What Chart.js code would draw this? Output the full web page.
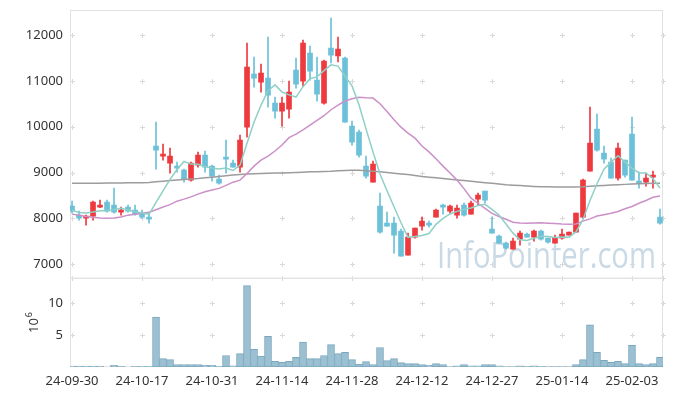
<!DOCTYPE html>
<html>
<head>
<meta charset="utf-8">
<script src="https://cdn.jsdelivr.net/npm/chart.js@4.4.1/dist/chart.umd.min.js"></script>
<style>
  html, body { margin: 0; padding: 0; background: #fff; }
  #wrap { width: 673px; height: 396px; }
</style>
</head>
<body>
<div id="wrap"><canvas id="c" width="673" height="396"></canvas></div>
<script>
// daily candles, index 0 = 24-09-30
const opens = [8266, 8070, 8005, 8049, 8245, 8354, 8289, 8136, 8245, 8180,
  8114, 8027, 9577, 9359, 9206, 9140, 9053, 8835, 9162, 9380,
  9140, 8857, 9315, 9206, 9118, 9991, 11149, 10974, 11061, 10516,
  10341, 10384, 11236, 10996, 11607, 11017, 10516, 11716, 11542, 11498,
  10013, 9882, 9140, 8791, 8267, 7896, 7896, 7721, 7198, 7590,
  7830, 7896, 8027, 8267, 8158, 8071, 8289, 8093, 8420, 8595,
  7765, 7612, 7459, 7328, 7547, 7656, 7590, 7721, 7568, 7459,
  7568, 7634, 7700, 8027, 9031, 9948, 9424, 9228, 8878, 9271,
  9839, 8791, 8791, 8900, 8027];
const highs = [8376, 8157, 8070, 8376, 8398, 8398, 8660, 8245, 8289, 8289,
  8180, 8136, 10100, 9620, 9533, 9228, 9075, 9228, 9446, 9468,
  9162, 8944, 9708, 9271, 9817, 11825, 11520, 11367, 11956, 10647,
  10647, 10996, 11498, 11891, 11760, 11520, 11454, 12371, 11956, 11520,
  10123, 9926, 9359, 9249, 8551, 8136, 8027, 7765, 7678, 7787,
  8027, 7940, 8202, 8311, 8289, 8289, 8333, 8376, 8551, 8595,
  8027, 7634, 7481, 7568, 7721, 7678, 7743, 7743, 7568, 7634,
  7765, 7700, 8114, 8857, 10428, 10275, 9577, 9315, 9642, 9271,
  10210, 9010, 8988, 9031, 8202];
const lows = [8114, 7960, 7852, 7962, 8234, 8136, 8114, 8070, 8136, 8070,
  8005, 7896, 9075, 9271, 8988, 9010, 8791, 8813, 9118, 9010,
  8813, 8748, 8988, 9118, 9010, 9773, 10865, 10756, 10428, 10188,
  10013, 10188, 10843, 10887, 11017, 10559, 10494, 11389, 11411, 10101,
  9599, 9337, 8878, 8791, 7678, 7830, 7241, 7176, 7198, 7568,
  7743, 7808, 8027, 8093, 8114, 8005, 8049, 8093, 8289, 8333,
  7678, 7459, 7328, 7328, 7416, 7590, 7503, 7525, 7459, 7459,
  7547, 7634, 7700, 8005, 9031, 9468, 9206, 8878, 8835, 8900,
  8835, 8660, 8704, 8660, 7874];
const closes = [8157, 8005, 8027, 8354, 8289, 8157, 8136, 8180, 8157, 8093,
  8027, 7983, 9490, 9402, 9359, 9097, 8857, 9206, 9380, 9118,
  8922, 8770, 9293, 9118, 9708, 11301, 11061, 11170, 10690, 10341,
  10516, 10756, 10930, 11825, 11214, 10712, 11432, 11563, 11694, 10101,
  9664, 9380, 8922, 9184, 7700, 7830, 7634, 7176, 7590, 7787,
  7940, 7852, 8180, 8245, 8267, 8223, 8071, 8333, 8507, 8398,
  7678, 7459, 7350, 7503, 7678, 7590, 7721, 7547, 7481, 7568,
  7656, 7700, 8114, 8835, 9642, 9490, 9293, 8878, 9533, 8944,
  8835, 8770, 8878, 8922, 7896];
// volume, millions
const volumes = [0.15, 0.15, 0.15, 0.15, 0.15, 0, 0.28, 0.1, 0, 0.1,
  0.1, 0.1, 7.8, 1.3, 1.15, 0.37, 0.37, 0.37, 0.37, 0.26,
  0.26, 0.1, 1.8, 0.2, 2.1, 12.7, 2.75, 1.7, 4.8, 0.9,
  0.74, 0.9, 1.5, 3.9, 1.3, 1.3, 1.8, 3.5, 2.1, 2.3,
  1.15, 0.47, 0.84, 0.37, 3.05, 1.0, 1.3, 0.68, 0.53, 0.53,
  0.37, 0.26, 0.53, 0.37, 0.05, 0.2, 0.37, 0.2, 0.2, 0.37,
  0.37, 0.2, 0.05, 0.05, 0.2, 0.1, 0.2, 0.1, 0.05, 0.05,
  0.05, 0.05, 0.37, 1.15, 6.6, 2.3, 1.05, 0.74, 0.9, 0.53,
  3.4, 0.53, 0.37, 0.53, 1.5];
// moving averages
const ma5 = [8180, 8130, 8120, 8140, 8166, 8166, 8193, 8223, 8184, 8145,
  8119, 8088, 8350, 8599, 8852, 9066, 9241, 9184, 9180, 9132,
  9097, 9079, 9097, 9044, 9162, 9638, 10096, 10472, 10786, 10913,
  10756, 10695, 10647, 10874, 11048, 11087, 11223, 11349, 11323, 11100,
  10891, 10480, 9952, 9450, 8970, 8603, 8254, 7905, 7586, 7603,
  7625, 7669, 7870, 8001, 8097, 8153, 8197, 8228, 8280, 8306,
  8197, 8075, 7878, 7678, 7534, 7516, 7568, 7608, 7603, 7581,
  7595, 7590, 7704, 7975, 8389, 8756, 9075, 9228, 9367, 9228,
  9097, 8992, 8992, 8870, 8660];
const ma20 = [8093, 8070, 8040, 8027, 8010, 8005, 8010, 8030, 8071, 8090,
  8110, 8136, 8190, 8250, 8300, 8375, 8420, 8470, 8530, 8580,
  8620, 8655, 8720, 8790, 8835, 8980, 9140, 9270, 9360, 9470,
  9600, 9760, 9840, 9930, 10035, 10140, 10240, 10370, 10470, 10560,
  10610, 10640, 10630, 10625, 10500, 10330, 10150, 9990, 9860, 9750,
  9580, 9450, 9300, 9140, 8990, 8835, 8650, 8440, 8330, 8220,
  8110, 8040, 7980, 7918, 7900, 7896, 7900, 7905, 7896, 7890,
  7880, 7874, 7880, 7940, 7990, 8050, 8080, 8110, 8150, 8210,
  8260, 8330, 8390, 8460, 8486];
const ma120 = [8765, 8766, 8767, 8768, 8769, 8770, 8772, 8774, 8776, 8778,
  8780, 8785, 8800, 8812, 8825, 8838, 8850, 8860, 8870, 8885,
  8900, 8915, 8930, 8945, 8960, 8968, 8975, 8980, 8985, 8988,
  8990, 8995, 9000, 9008, 9015, 9020, 9025, 9030, 9040, 9045,
  9050, 9048, 9040, 9030, 9015, 9000, 8985, 8970, 8955, 8935,
  8915, 8900, 8885, 8870, 8855, 8840, 8825, 8810, 8795, 8780,
  8765, 8750, 8735, 8725, 8715, 8705, 8698, 8692, 8688, 8685,
  8682, 8682, 8685, 8690, 8700, 8710, 8720, 8728, 8735, 8742,
  8748, 8755, 8760, 8765, 8768];

const dateTickIdx = [0, 10, 20, 30, 40, 50, 60, 70, 80];
const dateTickLabels = ['24-09-30', '24-10-17', '24-10-31', '24-11-14', '24-11-28',
  '24-12-12', '24-12-27', '25-01-14', '25-02-03'];
const priceTicks = [7000, 8000, 9000, 10000, 11000, 12000];
const volTicks = [5, 10];

const UP = '#ee3a3f', DOWN = '#6cc1d9';
const idx = opens.map((_, i) => i);
const candleColors = idx.map(i => closes[i] >= opens[i] ? UP : DOWN);
const FONT = { family: '"Noto Sans", "DejaVu Sans", sans-serif', size: 13 };

const decor = {
  id: 'decor',
  beforeDatasetsDraw(chart) {
    const ctx = chart.ctx;
    const { x, y, yv } = chart.scales;
    const area = chart.chartArea;
    ctx.save();
    // watermark
    ctx.font = '36px "Open Sans", sans-serif';
    ctx.fillStyle = '#c9dae6';
    ctx.textBaseline = 'alphabetic';
    const w = ctx.measureText('InfoPointer.com').width;
    ctx.translate(437, 268);
    ctx.scale(219 / w, 1);
    ctx.fillText('InfoPointer.com', 0, 0);
    ctx.restore();

    ctx.save();
    // small cross marks at grid intersections
    ctx.strokeStyle = '#d9d9d9';
    ctx.lineWidth = 1;
    const xs = dateTickIdx.map(v => Math.round(x.getPixelForValue(v))).concat([Math.round(area.right)]);
    const ys = priceTicks.map(v => Math.round(y.getPixelForValue(v)))
      .concat(volTicks.map(v => Math.round(yv.getPixelForValue(v))), [Math.round(yv.top)]);
    ctx.beginPath();
    xs.forEach(px => ys.forEach(py => {
      ctx.moveTo(px - 2, py + 0.5); ctx.lineTo(px + 3, py + 0.5);
      ctx.moveTo(px + 0.5, py - 2); ctx.lineTo(px + 0.5, py + 3);
    }));
    ctx.stroke();
    // panel frames
    ctx.strokeStyle = '#e2e2e2';
    ctx.strokeRect(area.left + 0.5, y.top + 0.5, area.right - area.left - 1, y.bottom - y.top);
    ctx.strokeRect(area.left + 0.5, yv.top + 0.5, area.right - area.left - 1, yv.bottom - yv.top - 1);
    ctx.restore();

    ctx.save();
    // 10^6 unit label of the volume axis
    ctx.fillStyle = '#333';
    ctx.translate(38, 333);
    ctx.rotate(-Math.PI / 2);
    ctx.font = '13px "Noto Sans", sans-serif';
    ctx.textBaseline = 'alphabetic';
    ctx.fillText('10', 0, 0);
    const tw = ctx.measureText('10').width;
    ctx.font = '9px "Noto Sans", sans-serif';
    ctx.fillText('6', tw + 1, -6);
    ctx.restore();
  }
};

const fixAxis = s => { s.width = 70; s.paddingTop = 0; s.paddingBottom = 0; };

new Chart(document.getElementById('c'), {
  type: 'bar',
  data: {
    datasets: [
      { type: 'line', data: idx.map(i => ({ x: i, y: ma5[i] })), borderColor: '#8fd0c6', borderWidth: 1.5,
        pointRadius: 0, yAxisID: 'y', order: 0 },
      { type: 'line', data: idx.map(i => ({ x: i, y: ma20[i] })), borderColor: '#cc90c8', borderWidth: 1.5,
        pointRadius: 0, yAxisID: 'y', order: 0 },
      { type: 'line', data: idx.map(i => ({ x: i, y: ma120[i] })), borderColor: '#9c9c9c', borderWidth: 1.5,
        pointRadius: 0, yAxisID: 'y', order: 0 },
      { data: idx.map(i => ({ x: i, y: [opens[i], closes[i]] })), backgroundColor: candleColors,
        barThickness: 5, minBarLength: 2, yAxisID: 'y', order: 1 },
      { data: idx.map(i => ({ x: i, y: [lows[i], highs[i]] })), backgroundColor: candleColors,
        barThickness: 1, yAxisID: 'y', order: 2 },
      { data: idx.map(i => ({ x: i, y: volumes[i] })), backgroundColor: '#9bc0d2', borderColor: '#79a7be',
        borderWidth: 1, barThickness: 7, yAxisID: 'yv', order: 3 }
    ]
  },
  options: {
    responsive: false,
    animation: false,
    devicePixelRatio: 1,
    events: [],
    layout: { padding: { top: 10, right: 10, left: 0, bottom: 0 } },
    datasets: { bar: { grouped: false, borderSkipped: false } },
    plugins: { legend: { display: false }, tooltip: { enabled: false } },
    scales: {
      x: {
        type: 'linear', min: -0.29, max: 84.43, offset: false,
        grid: { display: false, drawTicks: false }, border: { display: false },
        afterBuildTicks: s => { s.ticks = dateTickIdx.map(v => ({ value: v })); },
        ticks: { autoSkip: false, maxRotation: 0, padding: 6, color: '#333', font: FONT,
          callback: v => dateTickLabels[dateTickIdx.indexOf(v)] },
        afterFit: s => { s.height = 29; s.paddingLeft = 0; s.paddingRight = 0; }
      },
      // volume listed first so the price panel ends up on top of the stack
      yv: {
        type: 'linear', position: 'left', stack: 'panels', stackWeight: 1, min: 0, max: 13.94,
        grid: { display: false, drawTicks: false }, border: { display: false },
        afterBuildTicks: s => { s.ticks = volTicks.map(v => ({ value: v })); },
        ticks: { padding: 7, color: '#333', font: FONT, callback: v => String(v) },
        afterFit: fixAxis
      },
      y: {
        type: 'linear', position: 'left', stack: 'panels', stackWeight: 3, min: 6705, max: 12546,
        grid: { display: false, drawTicks: false }, border: { display: false },
        afterBuildTicks: s => { s.ticks = priceTicks.map(v => ({ value: v })); },
        ticks: { padding: 7, color: '#333', font: FONT, callback: v => String(v) },
        afterFit: fixAxis
      }
    }
  },
  plugins: [decor]
});
</script>
</body>
</html>
